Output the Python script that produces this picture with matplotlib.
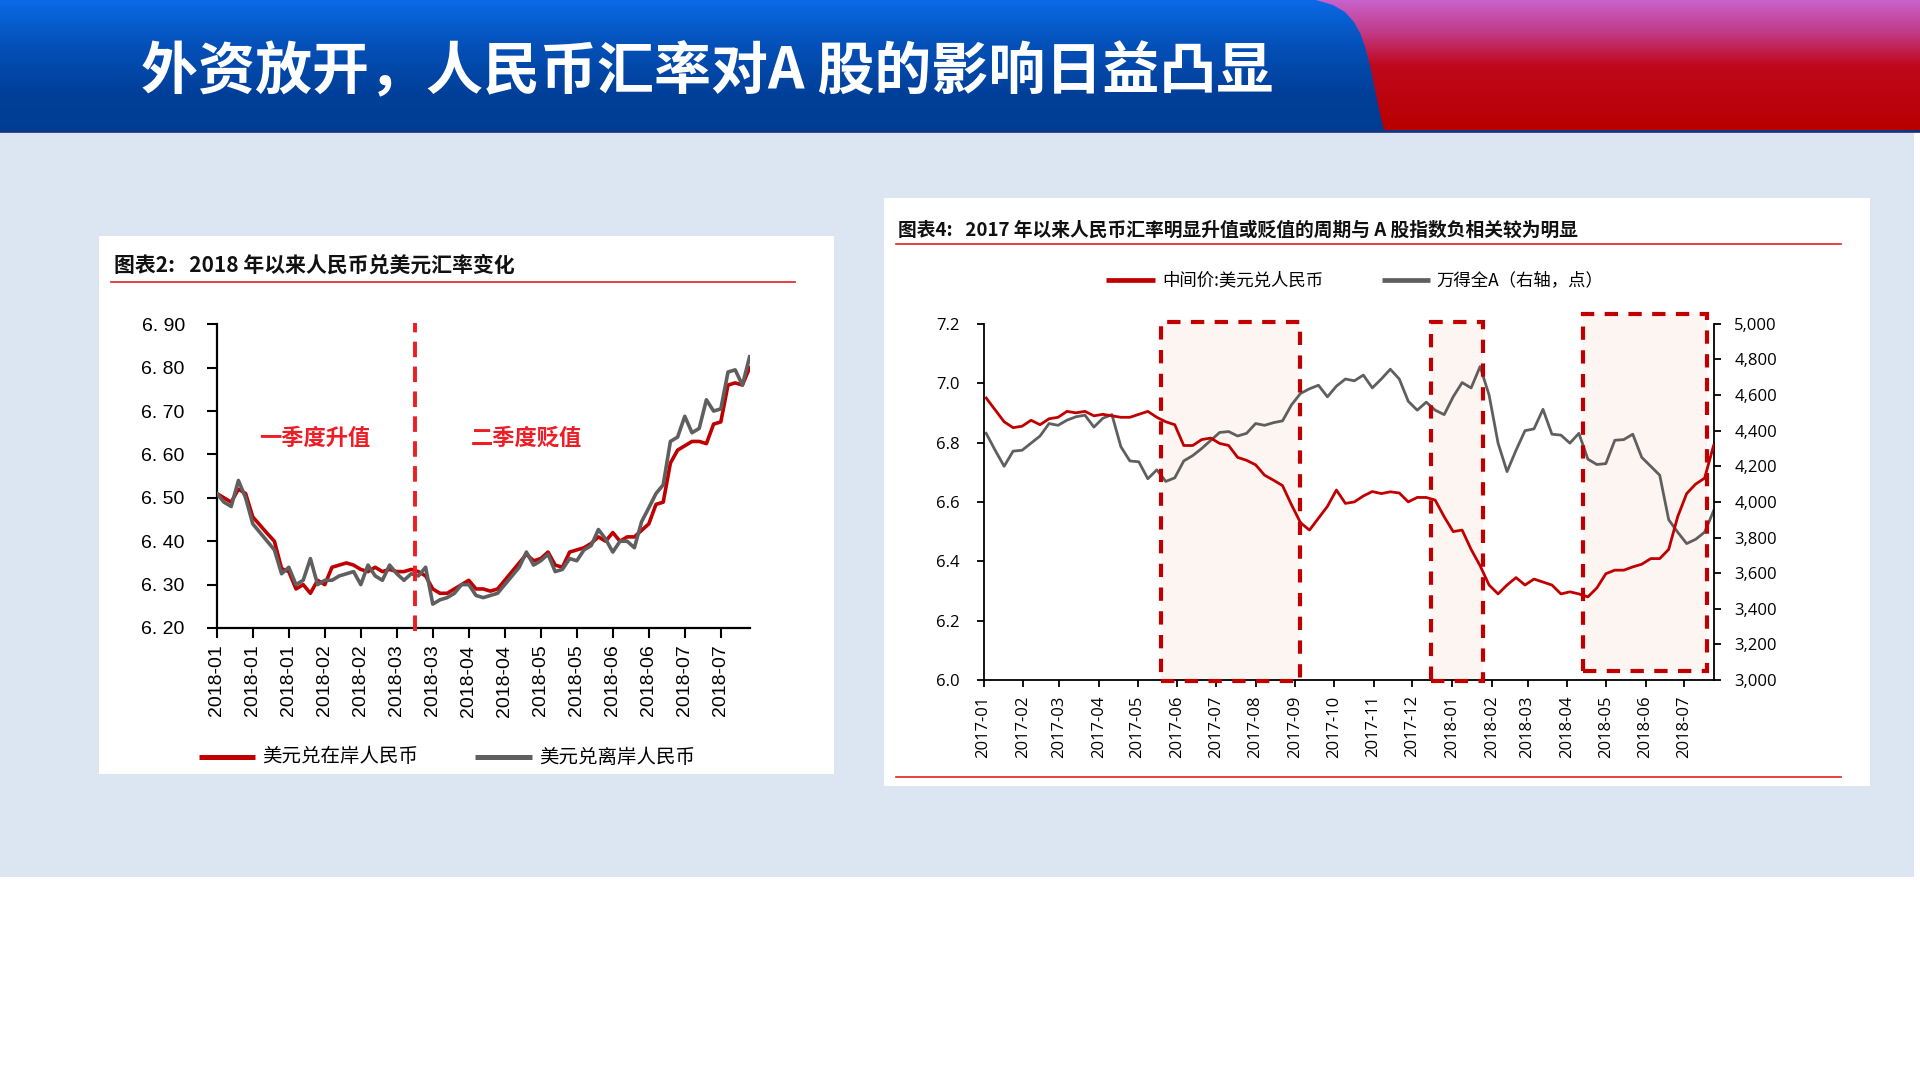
import matplotlib

matplotlib.use("Agg")
import matplotlib.pyplot as plt
import matplotlib.dates as mdates
import numpy as np
import pandas as pd
from matplotlib.colors import LinearSegmentedColormap
from matplotlib.patches import Rectangle, Polygon
from matplotlib.ticker import FuncFormatter

plt.rcParams["font.family"] = ["Noto Sans CJK SC", "DejaVu Sans"]

W, H = 1920, 1080
RED = "#c00000"
GRAY = "#5f5f5f"

# ---- left chart: USD/CNY onshore vs offshore, 2018 (every other trading day)
left_tick_labels = ["2018-01", "2018-01", "2018-01", "2018-02", "2018-02",
                    "2018-03", "2018-03", "2018-04", "2018-04", "2018-05",
                    "2018-05", "2018-06", "2018-06", "2018-07", "2018-07"]
onshore = [6.51, 6.50, 6.49, 6.52, 6.51, 6.456, 6.437, 6.418, 6.40, 6.337,
           6.33, 6.29, 6.30, 6.28, 6.31, 6.30, 6.34, 6.345, 6.35, 6.345,
           6.335, 6.33, 6.34, 6.33, 6.335, 6.33, 6.33, 6.335, 6.33, 6.32,
           6.29, 6.28, 6.28, 6.29, 6.30, 6.31, 6.29, 6.29, 6.285, 6.29,
           6.31, 6.33, 6.35, 6.37, 6.355, 6.36, 6.375, 6.345, 6.34, 6.375,
           6.38, 6.385, 6.395, 6.41, 6.40, 6.42, 6.40, 6.41, 6.41, 6.425,
           6.44, 6.485, 6.49, 6.58, 6.61, 6.62, 6.63, 6.63, 6.625, 6.67,
           6.675, 6.76, 6.765, 6.76, 6.80]
offshore = [6.51, 6.49, 6.48, 6.54, 6.50, 6.44, 6.42, 6.40, 6.38, 6.325,
            6.34, 6.30, 6.31, 6.36, 6.30, 6.31, 6.31, 6.32, 6.325, 6.33,
            6.30, 6.345, 6.32, 6.31, 6.345, 6.325, 6.31, 6.325, 6.32, 6.34,
            6.255, 6.265, 6.27, 6.28, 6.30, 6.30, 6.275, 6.27, 6.275, 6.28,
            6.30, 6.32, 6.34, 6.375, 6.345, 6.355, 6.37, 6.33, 6.335, 6.36,
            6.355, 6.38, 6.39, 6.427, 6.405, 6.375, 6.40, 6.40, 6.385, 6.445,
            6.477, 6.51, 6.53, 6.63, 6.64, 6.688, 6.65, 6.66, 6.726, 6.70,
            6.705, 6.79, 6.795, 6.76, 6.825]
split_index = 27.5  # Q1 / Q2 boundary

# ---- right chart: CNY central parity vs Wind All A (weekly)
right_dates = pd.date_range("2017-01-03", periods=82, freq="7D")
cny_mid = [6.95, 6.91, 6.87, 6.85, 6.855, 6.875, 6.86, 6.88, 6.885, 6.905,
           6.90, 6.905, 6.89, 6.895, 6.89, 6.885, 6.885, 6.895, 6.905, 6.885,
           6.87, 6.86, 6.79, 6.79, 6.81, 6.815, 6.797, 6.79, 6.75, 6.74,
           6.725, 6.69, 6.673, 6.655, 6.59, 6.53, 6.505, 6.545, 6.585, 6.64,
           6.595, 6.60, 6.62, 6.635, 6.628, 6.634, 6.63, 6.60, 6.615, 6.615,
           6.606, 6.55, 6.50, 6.505, 6.44, 6.385, 6.32, 6.29, 6.32, 6.345,
           6.32, 6.34, 6.33, 6.32, 6.29, 6.297, 6.29, 6.28, 6.31, 6.358,
           6.37, 6.37, 6.381, 6.39, 6.409, 6.409, 6.44, 6.55, 6.628, 6.66,
           6.68, 6.79]
wind_all_a = [4385, 4290, 4200, 4285, 4290, 4330, 4370, 4440, 4430, 4459,
              4478, 4487, 4420, 4470, 4490, 4310, 4230, 4225, 4130, 4180,
              4115, 4135, 4230, 4260, 4300, 4345, 4390, 4395, 4370, 4385,
              4440, 4430, 4445, 4455, 4545, 4609, 4635, 4655, 4590, 4650,
              4690, 4680, 4712, 4640, 4690, 4745, 4690, 4565, 4515, 4560,
              4515, 4490, 4590, 4670, 4640, 4760, 4600, 4330, 4170, 4290,
              4400, 4410, 4520, 4380, 4375, 4330, 4385, 4240, 4210, 4215,
              4346, 4350, 4380, 4250, 4200, 4150, 3900, 3830, 3766, 3790,
              3830, 3950]
periods = [("2017-05-19", "2017-09-05"),
           ("2017-12-16", "2018-01-25"),
           ("2018-04-13", "2018-07-19")]
period_spans = [(5.997, 7.206), (5.997, 7.207), (6.03, 7.233)]


def px_axes(fig, x0, y0, x1, y1):
    return fig.add_axes([x0 / W, 1 - y1 / H, (x1 - x0) / W, (y1 - y0) / H])


fig = plt.figure(figsize=(W / 100, H / 100), dpi=100)
fig.patch.set_facecolor("white")

# ---- slide background
bg = fig.add_axes([0, 0, 1, 1])
bg.set_xlim(0, W)
bg.set_ylim(H, 0)
bg.axis("off")

blue_cmap = LinearSegmentedColormap.from_list(
    "hdr", [(0, "#0a6ae6"), (0.35, "#0450b8"), (0.7, "#01409a"), (1, "#003c92")])
grad = np.linspace(0, 1, 256).reshape(-1, 1)
bg.imshow(grad, cmap=blue_cmap, extent=(0, W, 132, 0), aspect="auto", zorder=0)

red_cmap = LinearSegmentedColormap.from_list(
    "hdr_red", [(0, "#c862cc"), (0.25, "#c23a86"), (0.5, "#c0081e"), (1, "#b80000")])
curve = [(1316, 0), (1333, 5), (1345, 12), (1354, 22), (1361, 35), (1366, 50),
         (1371, 70), (1376, 95), (1381, 118), (1384, 130), (W, 130), (W, 0)]
red_shape = Polygon(curve, closed=True, transform=bg.transData,
                    facecolor="none", edgecolor="none")
bg.add_patch(red_shape)
im = bg.imshow(grad, cmap=red_cmap, extent=(1300, W, 130, 0), aspect="auto", zorder=1)
im.set_clip_path(red_shape)

bg.add_patch(Rectangle((0, 132), 1914, 745, facecolor="#dce6f2", edgecolor="none", zorder=1))
bg.plot([0, W], [132, 132], color="#1c2f70", lw=1.2, zorder=2)
bg.text(141, 72, "外资放开，人民币汇率对A 股的影响日益凸显", color="white",
        fontsize=41, fontweight="bold", va="center", ha="left", zorder=3)

# panels
bg.add_patch(Rectangle((99, 236), 735, 538, facecolor="white", edgecolor="none", zorder=2))
bg.add_patch(Rectangle((884, 198), 986, 588, facecolor="white", edgecolor="none", zorder=2))

# left panel title and legend
bg.text(114, 265, "图表2:   2018 年以来人民币兑美元汇率变化", fontsize=15,
        fontweight="bold", va="center", ha="left", color="#111111", zorder=3)
bg.plot([111, 795], [282, 282], color="#e02020", lw=1.2, zorder=3)
bg.plot([199, 255], [757, 757], color=RED, lw=3.6, solid_capstyle="butt", zorder=3)
bg.text(262, 757, "美元兑在岸人民币", fontsize=14, va="center", ha="left", zorder=3)
bg.plot([475, 532], [757, 757], color=GRAY, lw=3.6, solid_capstyle="butt", zorder=3)
bg.text(539, 757, "美元兑离岸人民币", fontsize=14, va="center", ha="left", zorder=3)

# right panel title and legend
bg.text(898, 230, "图表4:   2017 年以来人民币汇率明显升值或贬值的周期与 A 股指数负相关较为明显",
        fontsize=13.5, fontweight="bold", va="center", ha="left", color="#111111", zorder=3)
bg.plot([896, 1841], [244, 244], color="#e02020", lw=1.2, zorder=3)
bg.plot([896, 1841], [777, 777], color="#e02020", lw=1.2, zorder=3)
bg.plot([1106, 1155], [280, 280], color=RED, lw=3.4, solid_capstyle="butt", zorder=3)
bg.text(1162, 280, "中间价:美元兑人民币", fontsize=12.5, va="center", ha="left", zorder=3)
bg.plot([1382, 1430], [280, 280], color=GRAY, lw=3.4, solid_capstyle="butt", zorder=3)
bg.text(1436, 280, "万得全A（右轴，点）", fontsize=12.5, va="center", ha="left", zorder=3)

# ---- left chart
axl = px_axes(fig, 216.8, 324.3, 749.6, 628)
axl.patch.set_visible(False)
xl = np.arange(len(onshore))
axl.plot(xl, onshore, color=RED, lw=2.6, zorder=3)
axl.plot(xl, offshore, color=GRAY, lw=2.6, zorder=3)
axl.axvline(split_index, ymin=-0.01, ymax=1.005, color="#ee1c25", lw=2.8,
            linestyle=(0, (4.0, 2.4)), clip_on=False, zorder=4)
axl.text(13.6, 6.638, "一季度升值", color="#ee1c25", fontsize=16, fontweight="bold",
         ha="center", va="center")
axl.text(43.0, 6.638, "二季度贬值", color="#ee1c25", fontsize=16, fontweight="bold",
         ha="center", va="center")
axl.set_xlim(0, 74)
axl.set_ylim(6.2, 6.9)
axl.set_xticks(np.arange(0, 75, 5))
axl.set_xticklabels(left_tick_labels, rotation=90, fontfamily="Liberation Sans", fontsize=14)
axl.set_yticks(np.arange(6.2, 6.91, 0.1))
axl.yaxis.set_major_formatter(FuncFormatter(lambda v, p: f"{v:.2f}".replace(".", ". ")))
for lab in axl.get_yticklabels():
    lab.set_fontfamily("Liberation Sans")
    lab.set_fontsize(14)
axl.tick_params(axis="y", direction="out", length=7, width=1.5, pad=16)
axl.tick_params(axis="x", direction="out", length=7, width=1.5, pad=5)
for s in ["top", "right"]:
    axl.spines[s].set_visible(False)
for s in ["left", "bottom"]:
    axl.spines[s].set_linewidth(1.6)

# ---- right chart
axr = px_axes(fig, 983.6, 323.8, 1713.6, 680)
axr2 = axr.twinx()
axr.set_zorder(axr2.get_zorder() + 1)
axr.patch.set_visible(False)
axr2.patch.set_visible(False)

for (d0, d1), (y0, y1) in zip(periods, period_spans):
    x0 = mdates.date2num(pd.Timestamp(d0))
    x1 = mdates.date2num(pd.Timestamp(d1))
    axr2.add_patch(Rectangle((x0, y0), x1 - x0, y1 - y0, transform=axr.transData,
                             facecolor="#fdf5f1", edgecolor="none", zorder=0.5, clip_on=False))
    axr.add_patch(Rectangle((x0, y0), x1 - x0, y1 - y0, facecolor="none",
                            edgecolor="#c00000", lw=3.0, linestyle=(0, (3.2, 2.5)),
                            zorder=5, clip_on=False))

axr2.plot(right_dates, wind_all_a, color=GRAY, lw=2.0, zorder=2)
axr.plot(right_dates, cny_mid, color=RED, lw=2.0, zorder=3)

axr.set_xlim(mdates.date2num(pd.Timestamp("2017-01-01")),
             mdates.date2num(pd.Timestamp("2018-07-24")))
axr.set_ylim(6.0, 7.2)
axr2.set_ylim(3000, 5000)
axr.xaxis.set_major_locator(mdates.MonthLocator())
axr.xaxis.set_major_formatter(mdates.DateFormatter("%Y-%m"))
axr.set_yticks(np.arange(6.0, 7.21, 0.2))
axr.yaxis.set_major_formatter(FuncFormatter(lambda v, p: f"{v:.1f}"))
axr2.set_yticks(np.arange(3000, 5001, 200))
axr2.yaxis.set_major_formatter(FuncFormatter(lambda v, p: f"{v:,.0f}"))
axr.tick_params(axis="x", direction="out", length=5, width=1.3, pad=6, labelrotation=90)
axr.tick_params(axis="y", direction="out", length=5, width=1.3, pad=12)
axr2.tick_params(axis="y", direction="out", length=5, width=1.3, pad=10)
for lab in axr.get_xticklabels() + axr.get_yticklabels() + axr2.get_yticklabels():
    lab.set_fontfamily("Open Sans")
    lab.set_fontsize(12)
axr.spines["top"].set_visible(False)
axr.spines["right"].set_visible(False)
for s in ["top", "left", "bottom"]:
    axr2.spines[s].set_visible(False)
axr.spines["left"].set_linewidth(1.3)
axr.spines["bottom"].set_linewidth(1.3)
axr2.spines["right"].set_linewidth(1.3)

fig.savefig("out.png", dpi=100)
plt.close(fig)
